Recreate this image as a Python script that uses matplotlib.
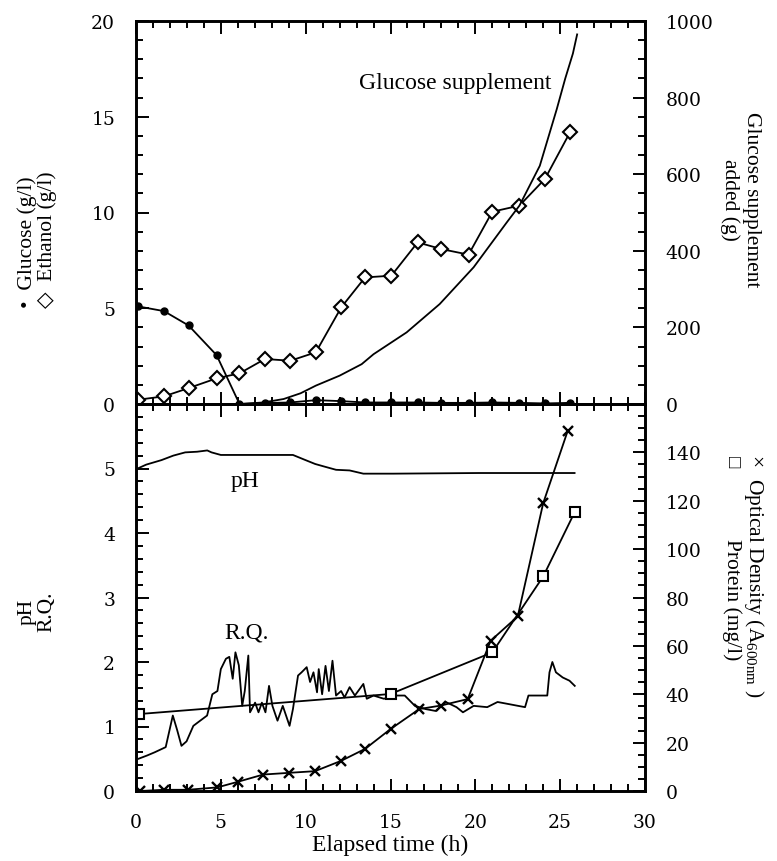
import matplotlib
matplotlib.use('Agg')
import matplotlib.pyplot as plt
from matplotlib.ticker import MultipleLocator, FixedLocator

# ---------------------------------------------------------------------
# Data
# ---------------------------------------------------------------------
# Top panel: glucose (g/l), ethanol (g/l), glucose supplement added (g)
sample_t = [0.1, 1.65, 3.1, 4.75, 6.1, 7.6, 9.1, 10.6, 12.1, 13.5, 15.05,
            16.6, 18.0, 19.6, 21.0, 22.6, 24.1, 25.6]
glucose = [5.1, 4.85, 4.1, 2.55, 0.0, 0.05, 0.08, 0.2, 0.15, 0.08, 0.08,
           0.08, 0.06, 0.06, 0.08, 0.06, 0.03, 0.06]
ethanol = [0.22, 0.4, 0.83, 1.34, 1.6, 2.35, 2.26, 2.7, 5.05, 6.61, 6.7,
           8.44, 8.09, 7.8, 10.04, 10.36, 11.75, 14.22]

supp_t = [6.1, 7.5, 8.7, 9.7, 10.6, 12.0, 13.3, 14.0, 15.95, 17.9, 19.9,
          21.85, 22.6, 23.8, 24.8, 25.3, 25.75, 26.0]
supp_g = [0, 4, 13, 28, 48, 74, 104, 130, 187, 261, 357, 474, 518, 622,
          770, 850, 915, 965]

# Bottom panel: pH, R.Q. (left axis); optical density, protein (right axis)
ph_t = [0.1, 0.6, 1.5, 2.2, 2.9, 3.6, 4.2, 4.45, 5.0, 6.0, 7.5, 9.25,
        9.9, 10.56, 11.1, 11.79, 12.59, 13.4, 15.15, 20.2, 25.85]
ph = [5.0, 5.06, 5.13, 5.2, 5.25, 5.26, 5.28, 5.25, 5.21, 5.21, 5.21, 5.21,
      5.14, 5.07, 5.03, 4.98, 4.97, 4.92, 4.92, 4.93, 4.93]

rq_t = [0.15, 0.65, 1.1, 1.75, 2.17, 2.42, 2.68, 2.98, 3.38, 3.68, 4.19,
        4.5, 4.8, 5.0, 5.3, 5.5, 5.7, 5.86, 6.06, 6.26, 6.41, 6.62,
        6.72, 7.02, 7.22, 7.42, 7.63, 7.84, 8.04, 8.34, 8.65, 9.05, 9.25,
        9.55, 9.76, 10.06, 10.26, 10.46, 10.67, 10.77, 10.97, 11.17, 11.37,
        11.58, 11.79, 12.09, 12.29, 12.59, 12.9, 13.4, 13.6, 14.0,
        14.61, 15.25, 15.84, 16.44, 17.07, 17.68, 18.26, 18.89, 19.27, 19.9,
        20.7, 21.31, 21.92, 22.52, 22.93, 23.13, 24.24, 24.37, 24.54, 24.75,
        25.15, 25.55, 25.86]
rq = [0.5, 0.55, 0.6, 0.68, 1.17, 0.95, 0.7, 0.77, 1.01, 1.07, 1.17,
      1.5, 1.55, 1.89, 2.05, 2.08, 1.74, 2.15, 1.95, 1.32, 1.55, 2.1,
      1.22, 1.37, 1.22, 1.37, 1.22, 1.63, 1.32, 1.09, 1.32, 1.01, 1.27,
      1.79, 1.84, 1.92, 1.69, 1.84, 1.53, 1.89, 1.5, 1.94, 1.55,
      2.02, 1.48, 1.55, 1.45, 1.61, 1.48, 1.66, 1.43, 1.48,
      1.43, 1.48, 1.48, 1.32, 1.27, 1.24, 1.38, 1.3, 1.22, 1.32,
      1.30, 1.38, 1.35, 1.32, 1.30, 1.48, 1.48, 1.84, 2.0, 1.84, 1.76,
      1.71, 1.63]

od_t = [0.25, 1.65, 3.05, 4.8, 6.0, 7.5, 9.0, 10.55, 12.1, 13.5, 15.0,
        16.7, 17.95, 19.55, 20.9, 22.5, 24.0, 25.45]
od = [0.0, 0.5, 0.5, 1.5, 3.8, 6.8, 7.5, 8.2, 12.5, 17.4, 25.6, 33.9,
      35.3, 38.0, 62.1, 72.2, 119, 149]

prot_t = [0.15, 15.0, 21.0, 24.0, 25.85]
protein = [31.8, 40.1, 57.3, 88.7, 115.2]

# ---------------------------------------------------------------------
serif = ['Liberation Serif', 'DejaVu Serif']
tickfont = ['DejaVu Serif']
plt.rcParams['font.family'] = serif
plt.rcParams['mathtext.fontset'] = 'custom'
plt.rcParams['mathtext.rm'] = 'Liberation Serif'

W, H = 777, 862
fig = plt.figure(figsize=(W / 100, H / 100), dpi=100)

# axes box in pixels: left, right, top, middle, bottom
L, R, T, M, B = 136, 645, 22, 405, 792
ax_top = fig.add_axes([L / W, 1 - M / H, (R - L) / W, (M - T) / H])
ax_bot = fig.add_axes([L / W, 1 - B / H, (R - L) / W, (B - M) / H])
ax_top2 = ax_top.twinx()
ax_bot2 = ax_bot.twinx()

mk = dict(color='black', linewidth=1.3)

# top panel
ax_top.plot(sample_t, glucose, marker='o', markersize=5, **mk)
ax_top.plot(sample_t, ethanol, marker='D', markersize=7.5,
            markerfacecolor='white', markeredgewidth=1.5, **mk)
ax_top2.plot(supp_t, supp_g, **mk)
ax_top.text(18.8, 16.8, 'Glucose supplement', ha='center', va='center',
            fontsize=17)

# bottom panel
ax_bot.plot(ph_t, ph, **mk)
ax_bot.plot(rq_t, rq, **mk)
ax_bot2.plot(od_t, od, marker='x', markersize=7.5, markeredgewidth=1.7, **mk)
ax_bot2.plot(prot_t, protein, marker='s', markersize=6.8,
             markerfacecolor='white', markeredgewidth=1.5, **mk)
ax_bot.text(6.42, 4.81, 'pH', ha='center', va='center', fontsize=17)
ax_bot.text(6.52, 2.46, 'R.Q.', ha='center', va='center', fontsize=17)

# limits and ticks
for ax in (ax_top, ax_bot):
    ax.set_xlim(0, 30)
    ax.xaxis.set_major_locator(MultipleLocator(5))
    ax.xaxis.set_minor_locator(MultipleLocator(1))
ax_top.set_ylim(0, 20)
ax_top.yaxis.set_major_locator(MultipleLocator(5))
ax_top.yaxis.set_minor_locator(MultipleLocator(1))
ax_top2.set_ylim(0, 1000)
ax_top2.yaxis.set_major_locator(MultipleLocator(200))
ax_top2.yaxis.set_minor_locator(MultipleLocator(50))
ax_bot.set_ylim(0, 6)
ax_bot.yaxis.set_major_locator(FixedLocator([0, 1, 2, 3, 4, 5]))
ax_bot.yaxis.set_minor_locator(MultipleLocator(0.2))
ax_bot2.set_ylim(0, 160)
ax_bot2.yaxis.set_major_locator(FixedLocator([0, 20, 40, 60, 80, 100, 120, 140]))
ax_bot2.yaxis.set_minor_locator(MultipleLocator(5))

for ax in (ax_top, ax_bot, ax_top2, ax_bot2):
    ax.tick_params(which='both', direction='in', width=1.4, labelsize=13.5,
                   top=True)
    ax.tick_params(which='major', length=9, pad=15)
    ax.tick_params(which='minor', length=5)
    for s in ax.spines.values():
        s.set_linewidth(1.9)
    for lab in ax.get_xticklabels() + ax.get_yticklabels():
        lab.set_family(tickfont)
ax_top.tick_params(labelbottom=False)
ax_bot.tick_params(axis='x', pad=16)
for ax in (ax_top2, ax_bot2):
    ax.tick_params(which='both', right=True, left=False)

ax_bot.set_xlabel('Elapsed time (h)', fontsize=17, labelpad=2)

# axis titles as free text, like the original
fs = 15.5
fig.text(27 / W, 1 - 308 / H, '\u2022  Glucose (g/l)', rotation=90,
         ha='center', va='bottom', fontsize=fs)
fig.text(47 / W, 1 - 308 / H, '\u25c7  Ethanol (g/l)', rotation=90,
         ha='center', va='bottom', fontsize=fs)
fig.text(27 / W, 1 - 612 / H, 'pH', rotation=90, ha='center',
         va='center', fontsize=fs)
fig.text(47 / W, 1 - 612 / H, 'R.Q.', rotation=90, ha='center',
         va='center', fontsize=fs)
fig.text(751 / W, 1 - 200 / H, 'Glucose supplement', rotation=270,
         ha='center', va='center', fontsize=fs)
fig.text(730 / W, 1 - 200 / H, 'added (g)', rotation=270,
         ha='center', va='center', fontsize=fs)
# markers sit at the top, texts below them
fig.text(754 / W, 1 - 462 / H, '\u00d7', rotation=270, ha='center',
         va='center', fontsize=fs)
fig.text(732 / W, 1 - 462 / H, '\u25a1', rotation=270, ha='center',
         va='center', fontsize=fs - 2)
fig.text(754 / W, 1 - 478 / H, 'Optical Density (A$_{\\rm 600nm}$ )',
         rotation=270, ha='center', va='top', fontsize=fs)
fig.text(732 / W, 1 - 600 / H, 'Protein (mg/l)', rotation=270,
         ha='center', va='center', fontsize=fs)

fig.savefig('out.png', dpi=100)
